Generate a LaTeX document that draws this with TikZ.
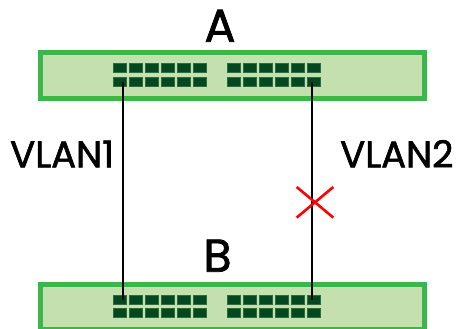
\documentclass[tikz,border=0pt]{standalone}
\usepackage{fontspec}
\setmainfont{Poppins}
\newfontfamily\labfont{Poppins}[FakeBold=1.6]
\usetikzlibrary{shapes.misc}
\definecolor{swborder}{HTML}{3CB54A}
\definecolor{swfill}{HTML}{C5E0AF}
\definecolor{portfill}{HTML}{03481F}
\definecolor{portedge}{HTML}{2E6B3E}
\begin{document}
\begin{tikzpicture}[x=1pt,y=-1pt,
  switchbox/.style={draw=swborder, fill=swfill, line width=5pt, rectangle,
    minimum width=384.3pt, minimum height=45.7pt, inner sep=0pt},
  portbox/.style={draw=portedge, line width=0.6pt, fill=portfill,
    minimum width=13pt, minimum height=8.8pt, inner sep=0pt},
  devlabel/.style={font=\labfont\fontsize{46}{46}\selectfont, inner sep=0pt, anchor=base},
  vlanlabel/.style={font=\labfont\fontsize{37}{37}\selectfont, inner sep=0pt, anchor=base west},
  wire/.style={line width=1.6pt, black},
  blocked/.style={cross out, draw=red, line width=2.6pt, minimum width=34pt,
    minimum height=28pt, inner sep=0pt}]
\useasboundingbox (0,0) rectangle (458,329);
\clip (0,0) rectangle (458,329);
% switches
\node[switchbox] (swA) at (232.35,75.35) {};
\node[switchbox] (swB) at (232.35,307.05) {};
% ports
\foreach \s/\ya/\yb in {a/68/82, b/299.5/312.7}{
  \foreach \i in {1,...,6}{
    \pgfmathtruncatemacro\j{\i+6}
    \node[portbox] (\s-1-\i) at ({120+(\i-1)*16},\ya) {};
    \node[portbox] (\s-2-\i) at ({120+(\i-1)*16},\yb) {};
    \node[portbox] (\s-1-\j) at ({233.4+(\i-1)*16},\ya) {};
    \node[portbox] (\s-2-\j) at ({233.4+(\i-1)*16},\yb) {};
  }
}
% labels
\node[devlabel] (labA) at (220,41.7) {A};
\node[devlabel] (labB) at (217.5,271.7) {B};
\node[vlanlabel] (v1) at (10,167.3) {VLAN1};
\node[vlanlabel] (v2) at (340,167.3) {VLAN2};
% links
\draw[wire] ([xshift=3pt]a-2-1.center) -- ([xshift=3pt]b-1-1.center);
\draw[wire] ([xshift=-1.7pt]a-2-12.center) -- ([xshift=-1.7pt]b-1-12.center);
\node[blocked] (x) at (315,202.3) {};
\end{tikzpicture}
\end{document}
